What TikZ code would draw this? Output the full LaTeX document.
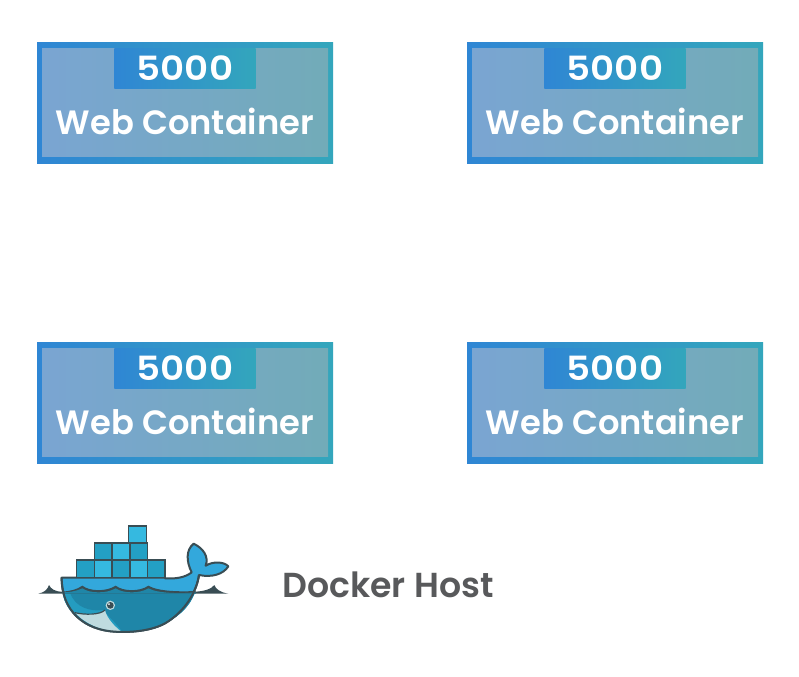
\documentclass[tikz,border=0pt]{standalone}
\usepackage{fontspec}
\setmainfont{Poppins}[BoldFont={Poppins SemiBold}]
\newfontfamily\digitfont{Poppins SemiBold}[FakeStretch=1.12]
\definecolor{gA}{HTML}{2F86D4}
\definecolor{gB}{HTML}{33A6BC}
\definecolor{iA}{HTML}{7AA5D2}
\definecolor{iB}{HTML}{72ABB8}
\definecolor{wo}{HTML}{394D54}
\definecolor{cd}{HTML}{23A0C4}
\definecolor{cl}{HTML}{35B9E0}
\definecolor{hu}{HTML}{33A8DC}
\definecolor{bo}{HTML}{1F86A8}
\definecolor{bl}{HTML}{249CC0}
\definecolor{ja}{HTML}{BFDBDF}
\definecolor{ho}{HTML}{58595B}
\tikzset{
 outerbox/.style={left color=gA,right color=gB,draw=none,minimum width=222pt,minimum height=90.75pt,inner sep=0pt,outer sep=0pt},
 innerbox/.style={left color=iA,right color=iB,draw=none,minimum width=214.5pt,minimum height=81pt,inner sep=0pt,outer sep=0pt},
 tabbox/.style={left color=gA,right color=gB,draw=none,minimum width=106pt,minimum height=30pt,inner sep=0pt,outer sep=0pt},
 boxtext/.style={text=white,font=\bfseries\fontsize{25.3}{28}\selectfont,inner sep=0pt},
 numtext/.style={text=white,font=\digitfont\fontsize{25}{28}\selectfont,inner sep=0pt},
 cube/.style={draw=wo,line width=.9pt},
}
\newcommand{\webbox}[3]{%
 \node[outerbox] (#3o) at (#1,#2) {};
 \node[innerbox] (#3i) at (#1,#2) {};
 \node[tabbox] (#3t) at (#1,#2-34.5) {};
 \node[numtext] (#3n) at (#1,#2-34.5) {5000};
 \node[boxtext] (#3w) at (#1,#2+19.2) {Web Container};
}
\begin{document}
\begin{tikzpicture}[x=.75pt,y=-.75pt]
\useasboundingbox[fill=white] (0,0) rectangle (799,676);
\webbox{185}{102.5}{a}
\webbox{615}{102.5}{b}
\webbox{185}{402.5}{c}
\webbox{615}{402.5}{d}
\begin{scope}[shift={(25,515)},x=.25pt,y=-.25pt]
 % water line
 \fill[wo] (40,236) .. controls (60,232) and (68,222) .. (72,210) .. controls (78,222) and (90,230) .. (112,230) -- (112,236) -- cycle;
 \fill[wo] (505,236) -- (505,230) .. controls (535,230) and (560,222) .. (568,210) .. controls (572,222) and (585,232) .. (610,236) -- cycle;
 % hull and tail
 \path[fill=hu,draw=wo,line width=1.5pt,line join=round] (110,188) -- (420,188) -- (420,190) .. controls (450,192) and (480,188) .. (500,172)
   .. controls (484,140) and (482,105) .. (506,86)
   .. controls (535,100) and (552,125) .. (542,152)
   .. controls (565,138) and (597,140) .. (610,154)
   .. controls (595,178) and (560,188) .. (522,180)
   .. controls (515,230) and (480,290) .. (420,325)
   .. controls (370,352) and (300,352) .. (270,350)
   .. controls (180,345) and (110,290) .. (110,188) -- cycle;
 % lower body
 \fill[bl] (113,232) -- (510,232) .. controls (490,285) and (450,310) .. (420,325)
   .. controls (370,352) and (300,352) .. (270,349)
   .. controls (180,340) and (118,290) .. (113,232) -- cycle;
 \fill[bo] (135,232) -- (510,232) .. controls (490,285) and (450,310) .. (420,323)
   .. controls (370,350) and (320,350) .. (290,348)
   .. controls (270,320) and (245,300) .. (236,285)
   .. controls (200,290) and (150,280) .. (135,232) -- cycle;
 % jaw
 \path[fill=ja] (150,293) .. controls (180,300) and (225,300) .. (240,285) .. controls (245,310) and (270,335) .. (288,349) .. controls (235,350) and (185,330) .. (150,293) -- cycle;
 \draw[wo,line width=.9pt] (150,293) .. controls (180,300) and (225,300) .. (240,285);
 % waves
 \path[fill=wo] (113,236) -- (113,230) .. controls (135,228) and (155,224) .. (172,212) .. controls (195,230) and (245,230) .. (272,212) .. controls (295,230) and (345,230) .. (370,212) .. controls (400,230) and (470,230) .. (512,228) -- (512,236) -- cycle;
 \path[fill=bo] (113,234) -- (113,232) .. controls (135,232) and (155,228) .. (172,220) .. controls (195,236) and (245,236) .. (272,220) .. controls (295,236) and (345,236) .. (370,220) .. controls (400,236) and (470,236) .. (512,232) -- (512,236) -- (113,236) -- cycle;
 \fill[bl] (113,236) rectangle (135,240);
 % outline again
 \draw[wo,line width=1.5pt,line join=round] (110,188) .. controls (110,290) and (180,345) .. (270,350) .. controls (300,352) and (370,352) .. (420,325) .. controls (480,290) and (515,230) .. (522,180);
 % eye
 \fill[ja] (256,271) circle (14);
 \fill[wo] (256,271) circle (10);
 \fill[white] (252,267) circle (3);
 % cubes
 \foreach \x/\c in {155/cd,208/cl,262/cd,315/cl,367/cd} \path[cube,fill=\c] (\x,135) rectangle ++(53,53);
 \foreach \x/\c in {208/cd,262/cl,315/cd} \path[cube,fill=\c] (\x,84) rectangle ++(53,51);
 \path[cube,fill=cl] (310,33) rectangle (365,84);
\end{scope}
\node[text=ho,font=\bfseries\fontsize{26}{28}\selectfont,inner sep=0pt] (host) at (388,585) {Docker Host};
\end{tikzpicture}
\end{document}
